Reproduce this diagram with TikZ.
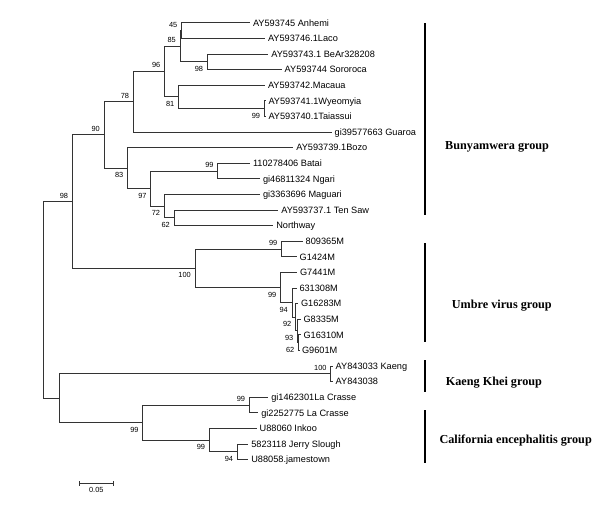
\documentclass[tikz,border=0pt]{standalone}
\usepackage{fontspec}
\usetikzlibrary{calc}
\newfontfamily\arialf{Liberation Sans}
\newfontfamily\timesf{Liberation Serif}
\newcommand\leaffont{\arialf\fontsize{9.2}{11}\selectfont}
\newcommand\bsfont{\arialf\fontsize{7.4}{9}\selectfont}
\newcommand\grpfont{\timesf\bfseries\fontsize{12.2}{14}\selectfont}
\tikzset{
  br/.style={line width=0.75pt, draw=black!80},
  leaf/.style={anchor=base west, inner sep=0pt, font=\leaffont},
  bsa/.style={anchor=south east, inner sep=0pt, font=\bsfont},
  bsb/.style={anchor=north east, inner sep=0pt, font=\bsfont},
  grp/.style={anchor=base west, inner sep=0pt, font=\grpfont},
  grpbar/.style={line width=2pt, draw=black},
}
\begin{document}
\begin{tikzpicture}[x=1pt,y=-1pt]
\useasboundingbox (0,0) rectangle (600,512);
% leaf tips
\coordinate (t1) at (250,22.7);
\coordinate (t2) at (265,38.3);
\coordinate (t3) at (268.3,53.9);
\coordinate (t4) at (281.7,69.5);
\coordinate (t5) at (265,85.1);
\coordinate (t6) at (265.5,100.7);
\coordinate (t7) at (265.5,116.3);
\coordinate (t8) at (331.7,131.9);
\coordinate (t9) at (293.3,147.5);
\coordinate (t10) at (250,163.1);
\coordinate (t11) at (260,178.7);
\coordinate (t12) at (260,194.3);
\coordinate (t13) at (278.3,209.9);
\coordinate (t14) at (273.3,225.5);
\coordinate (t15) at (302.7,241.1);
\coordinate (t16) at (296.7,256.7);
\coordinate (t17) at (297,272.3);
\coordinate (t18) at (296.5,287.9);
\coordinate (t19) at (298,303.5);
\coordinate (t20) at (300.5,319.1);
\coordinate (t21) at (300.5,334.7);
\coordinate (t22) at (299,350.3);
\coordinate (t23) at (332.7,365.9);
\coordinate (t24) at (332.7,381.5);
\coordinate (t25) at (268.3,397.1);
\coordinate (t26) at (258.3,412.7);
\coordinate (t27) at (256.7,428.3);
\coordinate (t28) at (248.3,443.9);
\coordinate (t29) at (248.3,459.5);
% internal nodes
\coordinate (n45) at (181.5,30.5);
\coordinate (nBe) at (207.3,61.7);
\coordinate (n85) at (180,46.1);
\coordinate (nWy) at (264.3,108.5);
\coordinate (n81) at (178.5,96.8);
\coordinate (n96) at (164.5,71.45);
\coordinate (n78) at (133.3,101.675);
\coordinate (nBa) at (217.7,170.9);
\coordinate (n62a) at (174,217.7);
\coordinate (n72) at (164.3,206);
\coordinate (n97) at (150.7,188.45);
\coordinate (n83) at (127.5,167.975);
\coordinate (n90) at (104,134.825);
\coordinate (nUa) at (281.5,248.9);
\coordinate (n62b) at (298.5,342.5);
\coordinate (n93) at (297.5,330.8);
\coordinate (n92) at (295.5,317.15);
\coordinate (n94) at (292,302.525);
\coordinate (nUb) at (280.5,287.41);
\coordinate (nU) at (195,268.16);
\coordinate (nB) at (72.3,201.49);
\coordinate (nK) at (330.7,373.7);
\coordinate (nLa) at (249.3,404.9);
\coordinate (nJ) at (237.3,451.7);
\coordinate (nIn) at (209.3,440);
\coordinate (nCE) at (142.7,422.45);
\coordinate (nKC) at (59.3,398.075);
\coordinate (root) at (43.3,299.78);
% branches
\draw[br] (n45) |- (t1); \draw[br] (n45) |- (t2);
\draw[br] (nBe) |- (t3); \draw[br] (nBe) |- (t4);
\draw[br] (n85) |- (n45); \draw[br] (n85) |- (nBe);
\draw[br] (nWy) |- (t6); \draw[br] (nWy) |- (t7);
\draw[br] (n81) |- (t5); \draw[br] (n81) |- (nWy);
\draw[br] (n96) |- (n85); \draw[br] (n96) |- (n81);
\draw[br] (n78) |- (n96); \draw[br] (n78) |- (t8);
\draw[br] (nBa) |- (t10); \draw[br] (nBa) |- (t11);
\draw[br] (n62a) |- (t13); \draw[br] (n62a) |- (t14);
\draw[br] (n72) |- (t12); \draw[br] (n72) |- (n62a);
\draw[br] (n97) |- (nBa); \draw[br] (n97) |- (n72);
\draw[br] (n83) |- (t9); \draw[br] (n83) |- (n97);
\draw[br] (n90) |- (n78); \draw[br] (n90) |- (n83);
\draw[br] (nUa) |- (t15); \draw[br] (nUa) |- (t16);
\draw[br] (n62b) |- (t21); \draw[br] (n62b) |- (t22);
\draw[br] (n93) |- (t20); \draw[br] (n93) |- (n62b);
\draw[br] (n92) |- (t19); \draw[br] (n92) |- (n93);
\draw[br] (n94) |- (t18); \draw[br] (n94) |- (n92);
\draw[br] (nUb) |- (t17); \draw[br] (nUb) |- (n94);
\draw[br] (nU) |- (nUa); \draw[br] (nU) |- (nUb);
\draw[br] (nB) |- (n90); \draw[br] (nB) |- (nU);
\draw[br] (nK) |- (t23); \draw[br] (nK) |- (t24);
\draw[br] (nLa) |- (t25); \draw[br] (nLa) |- (t26);
\draw[br] (nJ) |- (t28); \draw[br] (nJ) |- (t29);
\draw[br] (nIn) |- (t27); \draw[br] (nIn) |- (nJ);
\draw[br] (nCE) |- (nLa); \draw[br] (nCE) |- (nIn);
\draw[br] (nKC) |- (nK); \draw[br] (nKC) |- (nCE);
\draw[br] (root) |- (nB); \draw[br] (root) |- (nKC);
% leaf labels
\node[leaf] (l1) at ([shift={(2.8,3.3)}]t1) {AY593745 Anhemi};
\node[leaf] (l2) at ([shift={(2.8,3.3)}]t2) {AY593746.1Laco};
\node[leaf] (l3) at ([shift={(2.8,3.3)}]t3) {AY593743.1 BeAr328208};
\node[leaf] (l4) at ([shift={(2.8,3.3)}]t4) {AY593744 Sororoca};
\node[leaf] (l5) at ([shift={(2.8,3.3)}]t5) {AY593742.Macaua};
\node[leaf] (l6) at ([shift={(2.8,3.3)}]t6) {AY593741.1Wyeomyia};
\node[leaf] (l7) at ([shift={(2.8,3.3)}]t7) {AY593740.1Taiassui};
\node[leaf] (l8) at ([shift={(2.8,3.3)}]t8) {gi39577663 Guaroa};
\node[leaf] (l9) at ([shift={(2.8,3.3)}]t9) {AY593739.1Bozo};
\node[leaf] (l10) at ([shift={(2.8,3.3)}]t10) {110278406 Batai};
\node[leaf] (l11) at ([shift={(2.8,3.3)}]t11) {gi46811324 Ngari};
\node[leaf] (l12) at ([shift={(2.8,3.3)}]t12) {gi3363696 Maguari};
\node[leaf] (l13) at ([shift={(2.8,3.3)}]t13) {AY593737.1 Ten Saw};
\node[leaf] (l14) at ([shift={(2.8,3.3)}]t14) {Northway};
\node[leaf] (l15) at ([shift={(2.8,3.3)}]t15) {809365M};
\node[leaf] (l16) at ([shift={(2.8,3.3)}]t16) {G1424M};
\node[leaf] (l17) at ([shift={(2.8,3.3)}]t17) {G7441M};
\node[leaf] (l18) at ([shift={(2.8,3.3)}]t18) {631308M};
\node[leaf] (l19) at ([shift={(2.8,3.3)}]t19) {G16283M};
\node[leaf] (l20) at ([shift={(2.8,3.3)}]t20) {G8335M};
\node[leaf] (l21) at ([shift={(2.8,3.3)}]t21) {G16310M};
\node[leaf] (l22) at ([shift={(2.8,3.3)}]t22) {G9601M};
\node[leaf] (l23) at ([shift={(2.8,3.3)}]t23) {AY843033 Kaeng};
\node[leaf] (l24) at ([shift={(2.8,3.3)}]t24) {AY843038};
\node[leaf] (l25) at ([shift={(2.8,3.3)}]t25) {gi1462301La Crasse};
\node[leaf] (l26) at ([shift={(2.8,3.3)}]t26) {gi2252775 La Crasse};
\node[leaf] (l27) at ([shift={(2.8,3.3)}]t27) {U88060 Inkoo};
\node[leaf] (l28) at ([shift={(2.8,3.3)}]t28) {5823118 Jerry Slough};
\node[leaf] (l29) at ([shift={(2.8,3.3)}]t29) {U88058.jamestown};
% bootstrap values (above: south east; below: north east)
\node[bsa] (b45) at ([shift={(-4,-3.2)}]n45) {45};
\node[bsa] (b85) at ([shift={(-4,-3.2)}]n85) {85};
\node[bsb] (bBe) at ([shift={(-4,4.3)}]nBe) {98};
\node[bsa] (b96) at ([shift={(-4,-3.2)}]n96) {96};
\node[bsb] (b81) at ([shift={(-4,4.3)}]n81) {81};
\node[bsb] (bWy) at ([shift={(-4,4.3)}]nWy) {99};
\node[bsa] (b78) at ([shift={(-4,-3.2)}]n78) {78};
\node[bsa] (b90) at ([shift={(-4,-3.2)}]n90) {90};
\node[bsb] (b83) at ([shift={(-4,4.3)}]n83) {83};
\node[bsb] (b97) at ([shift={(-4,4.3)}]n97) {97};
\node[bsa] (bBa) at ([shift={(-4,-3.2)}]nBa) {99};
\node[bsb] (b72) at ([shift={(-4,4.3)}]n72) {72};
\node[bsb] (b62a) at ([shift={(-4,4.3)}]n62a) {62};
\node[bsa] (bB) at ([shift={(-4,-3.2)}]nB) {98};
\node[bsb] (bU) at ([shift={(-4,4.3)}]nU) {100};
\node[bsa] (bUa) at ([shift={(-4,-3.2)}]nUa) {99};
\node[bsb] (bUb) at ([shift={(-4,4.3)}]nUb) {99};
\node[bsb] (b94) at ([shift={(-4,4.3)}]n94) {94};
\node[bsb] (b92) at ([shift={(-4,4.3)}]n92) {92};
\node[bsb] (b93) at ([shift={(-4,4.3)}]n93) {93};
\node[bsb] (b62b) at ([shift={(-4,4.3)}]n62b) {62};
\node[bsa] (bK) at ([shift={(-4,-3.2)}]nK) {100};
\node[bsa] (bLa) at ([shift={(-4,-3.2)}]nLa) {99};
\node[bsb] (bCE) at ([shift={(-4,4.3)}]nCE) {99};
\node[bsb] (bIn) at ([shift={(-4,4.3)}]nIn) {99};
\node[bsb] (bJ) at ([shift={(-4,4.3)}]nJ) {94};
% group bars and labels
\draw[grpbar] (425.3,23.3) -- (425.3,215);
\draw[grpbar] (425.3,243.3) -- (425.3,341.7);
\draw[grpbar] (425.3,360) -- (425.3,391.7);
\draw[grpbar] (425.3,410) -- (425.3,463.3);
\node[grp] (g1) at (445,149) {Bunyamwera group};
\node[grp] (g2) at (451.7,308.3) {Umbre virus group};
\node[grp] (g3) at (445.7,385.7) {Kaeng Khei group};
\node[grp] (g4) at (439.3,443) {California encephalitis group};
% scale bar
\coordinate (s1) at (79.3,483.3);
\coordinate (s2) at (113.3,483.3);
\coordinate (sm) at ($(s1)!0.5!(s2)$);
\draw[br] (s1) -- (s2);
\draw[br] ([yshift=-2.4]s1) -- ([yshift=2.4]s1);
\draw[br] ([yshift=-2.4]s2) -- ([yshift=2.4]s2);
\node[font=\bsfont, anchor=north, inner sep=0pt] (sl) at ([yshift=-3.8]sm) {0.05};
\end{tikzpicture}
\end{document}
